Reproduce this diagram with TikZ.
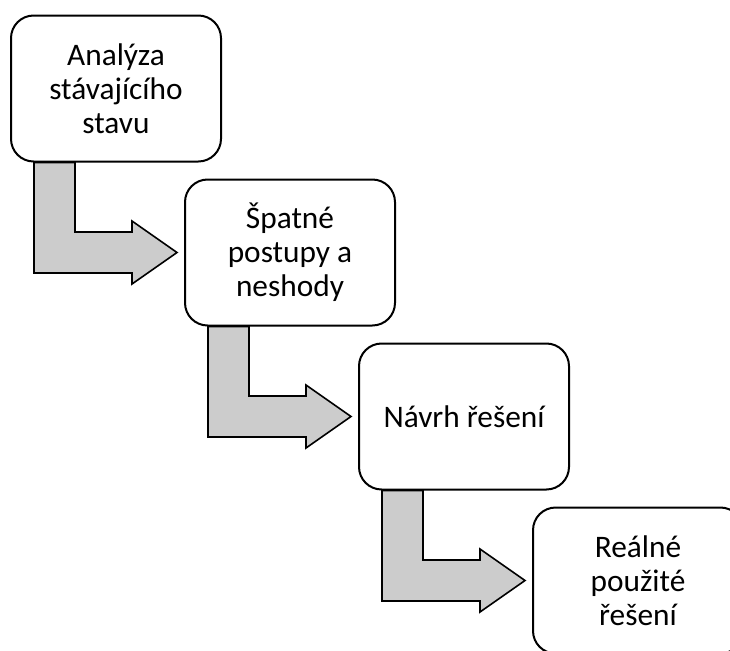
\documentclass[tikz,border=0pt]{standalone}
\usepackage{fontspec}
\setmainfont{Carlito}
\usepackage{tikz}
\usetikzlibrary{calc}
\definecolor{st_gray}{RGB}{204, 204, 204}
\tikzstyle{sn}=[rectangle,rounded corners=17pt,fill=white,draw=black,
  line width=1.5pt,minimum width=157.5pt,minimum height=109.5pt,
  align=center,font=\fontsize{23.5}{25.5}\selectfont]
\tikzstyle{sa}=[fill=st_gray,draw=black,line width=1.2pt,line join=miter]

\begin{document}
\begin{tikzpicture}[x=0.75pt,y=-0.75pt]
        \clip (0,0) rectangle (730,650);
        \node[style=sn] (an) at (116,88.5) {Analýza\\stávajícího\\stavu};
        \node[style=sn] (sp) at (290,252.5) {Špatné\\postupy a\\neshody};
        \node[style=sn] (nv) at (464,416.5) {Návrh řešení};
        \node[style=sn] (re) at (638,580.5) {Reálné\\použité\\řešení};
        \draw[style=sa] ($(an.south west)+(24,0)$) -- ++(41,0)
          |- ($(sp.west)+(-52,-20.5)$) -- ++(0,-11) -- ($(sp.west)+(-7,0)$)
          -- ++(-45,31.5) -- ++(0,-11) -| ($(an.south west)+(24,0)$) -- cycle;
        \draw[style=sa] ($(sp.south west)+(24,0)$) -- ++(41,0)
          |- ($(nv.west)+(-52,-20.5)$) -- ++(0,-11) -- ($(nv.west)+(-7,0)$)
          -- ++(-45,31.5) -- ++(0,-11) -| ($(sp.south west)+(24,0)$) -- cycle;
        \draw[style=sa] ($(nv.south west)+(24,0)$) -- ++(41,0)
          |- ($(re.west)+(-52,-20.5)$) -- ++(0,-11) -- ($(re.west)+(-7,0)$)
          -- ++(-45,31.5) -- ++(0,-11) -| ($(nv.south west)+(24,0)$) -- cycle;
    \end{tikzpicture}
\end{document}
